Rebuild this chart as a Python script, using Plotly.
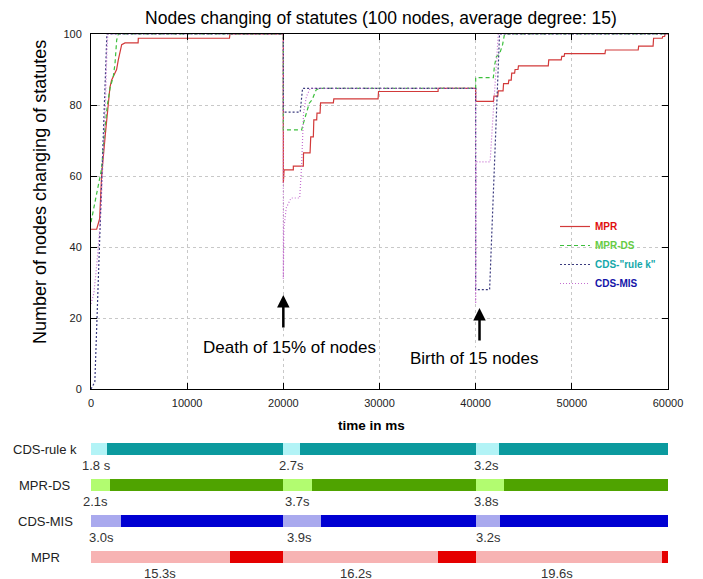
import plotly.graph_objects as go

# ---------------- data: top chart (time in ms, number of nodes) ----------------
mpr_t = [0, 590, 900, 1100, 1500, 1800, 1970, 2140, 2660, 2840, 3020, 3190, 3540, 4900, 4920, 14400, 14450,
         20000, 20000, 20080, 21040, 21040, 22080, 22100, 22780, 22850, 23120, 23170, 23470, 23500, 23820, 23870,
         25200, 25250, 29850, 29900, 36090, 36100,
         40000, 40000, 41840, 41900, 42300, 42350, 42850, 42900, 43400, 43450, 43700, 43750, 44050, 44100, 44400,
         44450, 47550, 47600, 48900, 48950, 49200, 49250, 53450, 53500, 56900, 56950, 58450, 58500, 59400, 59450,
         59650, 59700, 60000]
mpr_v = [45, 45, 48, 60, 72, 79.5, 85, 87, 90, 92.7, 95.5, 97, 97.5, 97.5, 98.8, 98.8, 100,
         100, 58, 61.7, 61.7, 62.8, 62.8, 66.5, 66.5, 71, 71, 75.8, 75.8, 77.7, 77.7, 80.6,
         80.6, 81.7, 81.7, 83.8, 83.8, 84.7,
         84.7, 81, 81, 82.5, 82.5, 84, 84, 86, 86, 87, 87, 89, 89, 90, 90,
         91, 91, 92.7, 92.7, 93.7, 93.7, 94.5, 94.5, 95.5, 95.5, 96.6, 96.6, 98.8, 98.8, 99.3,
         99.3, 100, 100]

mprds_t = [0, 300, 700, 900, 1100, 1400, 1700, 2000, 2320, 2500, 2670, 2840,
           20000, 20000, 21900, 22100, 22450, 22700, 23000, 23400, 23700,
           40000, 40000, 41840, 41950, 42150, 42500, 42800, 43000, 60000]
mprds_v = [47, 51, 57, 59, 62, 72, 80, 85, 88, 91.8, 98.3, 100,
           100, 73, 73, 75, 78.6, 80.5, 81.5, 84.2, 84.7,
           84.7, 87.7, 87.7, 91, 93.6, 94.5, 97, 100, 100]

cdsk_t = [0, 400, 900, 1300, 1650, 20000, 20000, 21750, 22000, 40000, 40000, 41450, 42480, 60000]
cdsk_v = [0, 2, 42, 75, 100, 100, 78, 78, 84.7, 84.7, 28, 28, 100, 100]

cdsmis_t = [0, 300, 600, 900, 1100, 1300, 1500, 1650, 1750,
            20000, 20000, 20050, 20300, 20800, 21700, 21900, 22100, 22400, 22800,
            40000, 40000, 40050, 41500, 42350, 60000]
cdsmis_v = [24, 27, 35, 45, 55, 67, 80, 95, 100,
            100, 31, 45, 51, 53.8, 53.8, 63, 77.7, 82.4, 84.7,
            84.7, 24, 64, 64, 100, 100]

x_ticks = [0, 10000, 20000, 30000, 40000, 50000, 60000]
y_ticks = [0, 20, 40, 60, 80, 100]

# ---------------- data: bottom timeline bars ----------------
rows = ["CDS-rule k", "MPR-DS", "CDS-MIS", "MPR"]
row_edges = {
    "CDS-rule k": [0, 1630, 20000, 21730, 40000, 42430, 60000],
    "MPR-DS":     [0, 1980, 20000, 22950, 40000, 42950, 60000],
    "CDS-MIS":    [0, 3090, 20000, 23890, 40000, 42530, 60000],
    "MPR":        [0, 14450, 20000, 36050, 40000, 59340, 60000],
}
row_colors = {
    "CDS-rule k": ("#b2f3f6", "#0b9a9e"),
    "MPR-DS":     ("#b2fc70", "#4fa300"),
    "CDS-MIS":    ("#a9a9ee", "#0000d2"),
    "MPR":        ("#f7b3b3", "#e50000"),
}
row_labels = {
    "CDS-rule k": ["1.8 s", "2.7s", "3.2s"],
    "MPR-DS":     ["2.1s", "3.7s", "3.8s"],
    "CDS-MIS":    ["3.0s", "3.9s", "3.2s"],
    "MPR":        ["15.3s", "16.2s", "19.6s"],
}
row_label_x = {
    "CDS-rule k": [600, 20900, 41150],
    "MPR-DS":     [420, 21500, 41150],
    "CDS-MIS":    [1110, 21730, 41290],
    "MPR":        [7180, 27560, 48430],
}

FONT = "Liberation Sans, Arial, sans-serif"
W, H = 703, 579
OFF = 8  # page offset of the figure in the browser


def px(x):
    return (x - OFF) / W


def py(y):
    return 1 - (y - OFF) / H


XD = [px(91), px(668)]

fig = go.Figure()


def leg(name, color):
    return "<b><span style='color:%s'>%s</span></b>" % (color, name)


fig.add_trace(go.Scatter(x=mpr_t, y=mpr_v, mode="lines", name=leg("MPR", "#e01010"),
                         line=dict(color="#d23a3a", width=1.2)))
fig.add_trace(go.Scatter(x=mprds_t, y=mprds_v, mode="lines", name=leg("MPR-DS", "#66cc44"),
                         line=dict(color="#3cbf3c", width=1.2, dash="4px,3px")))
fig.add_trace(go.Scatter(x=cdsk_t, y=cdsk_v, mode="lines", name=leg('CDS-"rule k"', "#14a8aa"),
                         line=dict(color="#3a3a7e", width=1.2, dash="2px,2px")))
fig.add_trace(go.Scatter(x=cdsmis_t, y=cdsmis_v, mode="lines", name=leg("CDS-MIS", "#1414a8"),
                         line=dict(color="#c46ed0", width=1.2, dash="1px,2px")))

for r in rows:
    e = row_edges[r]
    starts = e[:-1]
    lens = [e[i + 1] - e[i] for i in range(len(e) - 1)]
    cols = [row_colors[r][i % 2] for i in range(len(lens))]
    fig.add_trace(go.Bar(orientation="h", y=[r] * len(lens), x=lens, base=starts,
                         marker=dict(color=cols, line=dict(width=0)), width=0.36,
                         xaxis="x2", yaxis="y2", showlegend=False, hoverinfo="skip"))

ann = []
for r in rows:
    ann.append(dict(x=px(45), xref="paper", y=r, yref="y2", text=r, showarrow=False,
                    xanchor="center", yanchor="middle",
                    font=dict(family=FONT, size=13, color="#222")))
    for txt, xv in zip(row_labels[r], row_label_x[r]):
        ann.append(dict(x=xv, xref="x2", y=r, yref="y2", text=txt, showarrow=False, yshift=-16,
                        xanchor="center", yanchor="middle",
                        font=dict(family=FONT, size=13, color="#333")))

# event annotations
ann += [
    dict(x=20590, y=11.8, xref="x", yref="y", text="Death of 15% of nodes", showarrow=False,
         xanchor="center", yanchor="middle",
         font=dict(family=FONT, size=17, color="black"), bgcolor="white"),
    dict(x=39930, y=8.5, xref="x", yref="y", text="Birth of 15 nodes", showarrow=False,
         xanchor="center", yanchor="middle",
         font=dict(family=FONT, size=17, color="black"), bgcolor="white"),
    dict(x=20000, y=26.5, xref="x", yref="y", text="", showarrow=True, ax=0, ay=34,
         arrowhead=2, arrowsize=1, arrowwidth=2.5, arrowcolor="black"),
    dict(x=40400, y=22.8, xref="x", yref="y", text="", showarrow=True, ax=0, ay=34,
         arrowhead=2, arrowsize=1, arrowwidth=2.5, arrowcolor="black"),
    dict(x=px(371), y=py(425), xref="paper", yref="paper", text="<b>time in ms</b>",
         xanchor="center", yanchor="middle",
         showarrow=False, font=dict(family=FONT, size=13.5, color="black")),
    dict(x=px(40), y=py(192), xref="paper", yref="paper", textangle=-90,
         xanchor="center", yanchor="middle",
         text="Number of nodes changing of statutes", showarrow=False,
         font=dict(family=FONT, size=18, color="black")),
]

fig.update_layout(
    width=W, height=H, autosize=False,
    margin=dict(l=0, r=0, t=0, b=0, pad=0, autoexpand=False),
    paper_bgcolor="white", plot_bgcolor="white",
    font=dict(family=FONT, size=12, color="#222"),
    title=dict(text="Nodes changing of statutes (100 nodes, average degree: 15)",
               x=px(381), xanchor="center", y=py(18), yanchor="middle",
               xref="paper", yref="paper", automargin=False,
               font=dict(family=FONT, size=17.5, color="black")),
    xaxis=dict(domain=XD, anchor="y", range=[0, 60000], tickvals=x_ticks, automargin=False,
               ticktext=[str(v) for v in x_ticks], ticks="inside", ticklen=6, tickcolor="black",
               showline=True, linecolor="black", linewidth=1, mirror="allticks",
               showgrid=True, gridcolor="#c8c8c8", griddash="dot", gridwidth=1,
               zeroline=False, ticklabelstandoff=4, tickfont=dict(size=11, color="#222")),
    yaxis=dict(domain=[py(389), py(34)], anchor="x", range=[0, 100], tickvals=y_ticks,
               automargin=False,
               ticks="inside", ticklen=6, tickcolor="black",
               showline=True, linecolor="black", linewidth=1, mirror="allticks",
               showgrid=True, gridcolor="#c8c8c8", griddash="dot", gridwidth=1,
               zeroline=False, ticklabelstandoff=6, tickfont=dict(size=11, color="#222")),
    xaxis2=dict(domain=XD, anchor="y2", range=[0, 60000], visible=False, automargin=False),
    yaxis2=dict(domain=[py(575), py(431)], anchor="x2", type="category",
                categoryorder="array", categoryarray=list(reversed(rows)), automargin=False,
                range=[-0.5, 3.5], visible=False),
    legend=dict(x=px(555), y=py(212), xanchor="left", yanchor="top",
                bgcolor="rgba(0,0,0,0)", font=dict(family=FONT, size=10), itemwidth=30,
                tracegroupgap=0),
    barmode="overlay",
    bargap=0,
    annotations=ann,
)

fig.write_html("out.html")
